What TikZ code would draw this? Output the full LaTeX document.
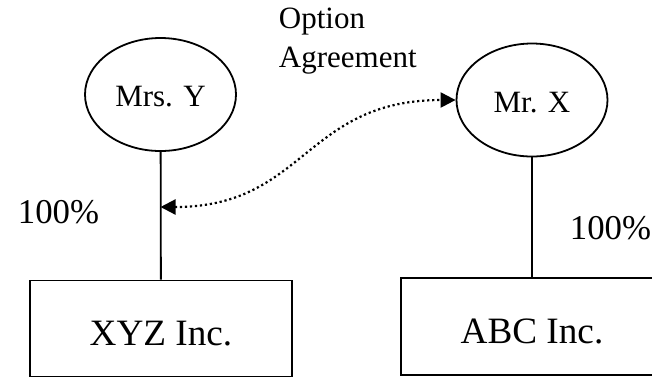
\documentclass[tikz,border=0pt]{standalone}
\usepackage{fontspec}
\setmainfont{Liberation Serif}
\usetikzlibrary{shapes.geometric,arrows.meta}

\begin{document}
\begin{tikzpicture}[
            x=0.5pt, y=-0.5pt,
            line width=0.9pt,
            person/.style={ellipse,draw,inner sep=0pt,
                    minimum width=75.5pt,minimum height=56.5pt,
                    text height=12.3pt,text depth=0pt,
                    font=\fontsize{15.5}{19.5}\selectfont},
            company/.style={rectangle,draw,inner sep=0pt,
                    minimum width=131pt,minimum height=48pt,
                    text height=16.5pt,text depth=0pt,
                    font=\fontsize{18.6}{22}\selectfont},
            share/.style={inner sep=0pt,anchor=base west,
                    font=\fontsize{17.4}{20}\selectfont},
            option/.style={{Triangle[length=7.5pt,width=7.5pt]}-{Triangle[length=7.5pt,width=7.5pt]},
                    line width=1.1pt,dash pattern=on 1.1pt off 1.4pt}
        ]
        \clip (0,0) rectangle (652,377);
        \node[person] (mrsy) at (160.5,94.5) {Mrs. Y};
        \node[person] (mrx) at (532,100) {Mr. X};
        \node[company] (xyz) at (161,328.5) {XYZ Inc.};
        \node[company,minimum height=48.5pt] (abc) at (532,326.5) {ABC Inc.};
        \node[share] (pctxyz) at (17,223) {100\%};
        \node[share] (pctabc) at (569,239) {100\%};
        \node[inner sep=0pt,anchor=north west,align=left,
            font=\fontsize{15.5}{19.5}\selectfont] (optlabel) at (278,7.5)
            {Option\\Agreement};
        \draw (mrsy) -- (xyz);
        \draw (mrx) -- (abc);
        \coordinate (optend) at (mrsy.south |- 0,207);
        \draw[option] (optend) .. controls (305,207) and (305,100) .. (mrx.west);
    \end{tikzpicture}
\end{document}
